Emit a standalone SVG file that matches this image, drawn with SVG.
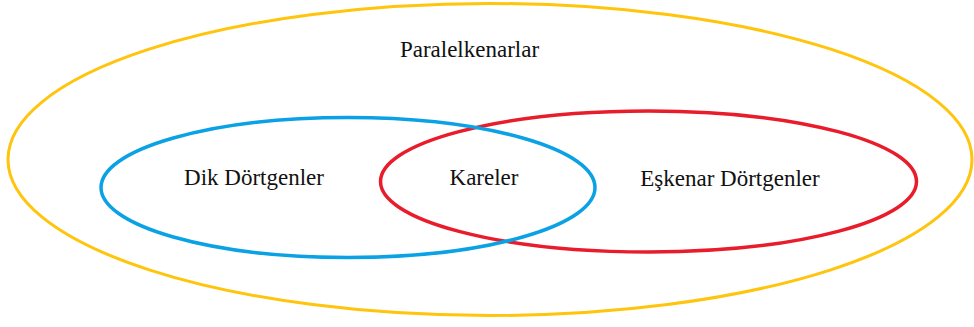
<svg xmlns="http://www.w3.org/2000/svg" width="974" height="327" viewBox="0 0 974 327">
  <style>
    .set { fill: none; }
    .label { font-family: "Liberation Serif", "Times New Roman", serif; font-size: 23px; fill: #111; text-anchor: middle; }
  </style>
  <rect width="974" height="327" fill="#fff"/>
  <g id="paralelkenarlar">
    <ellipse class="set" cx="490" cy="159.5" rx="482" ry="156" stroke="#FFC40C" stroke-width="3"/>
    <text class="label" x="469.5" y="57">Paralelkenarlar</text>
  </g>
  <g id="eskenar-dortgenler">
    <ellipse class="set" cx="648.5" cy="181.5" rx="268" ry="70.5" stroke="#E81C2A" stroke-width="3.5"/>
    <text class="label" x="730" y="186">Eşkenar Dörtgenler</text>
  </g>
  <g id="dik-dortgenler">
    <ellipse class="set" cx="348" cy="187.5" rx="247" ry="70" stroke="#0AA2E4" stroke-width="3.5"/>
    <text class="label" x="254" y="185">Dik Dörtgenler</text>
  </g>
  <g id="kareler">
    <text class="label" x="484" y="185">Kareler</text>
  </g>
</svg>
